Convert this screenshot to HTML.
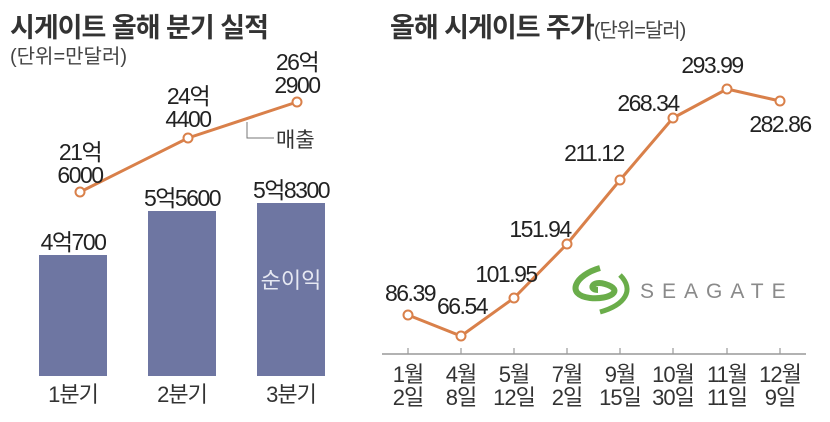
<!DOCTYPE html>
<html><head><meta charset="utf-8"><style>
body{margin:0;background:#fff;}
svg{display:block;}
text{font-family:"Liberation Sans Narrow","Liberation Sans","Noto Sans CJK KR",sans-serif;fill:#222;}
.t{font-family:"Liberation Sans","Noto Sans CJK KR",sans-serif;font-weight:bold;font-size:27px;fill:#333;}
.s{font-family:"Liberation Sans","Noto Sans CJK KR",sans-serif;font-size:20px;fill:#444;}
.n{font-size:23px;text-anchor:middle;letter-spacing:-1.5px;}
.a{font-size:22px;text-anchor:middle;fill:#333;letter-spacing:-1px;}
</style></head><body>
<svg width="830" height="422" viewBox="0 0 830 422">
<text class="t" x="10" y="37" letter-spacing="-1">시게이트 올해 분기 실적</text>
<text class="s" x="10" y="63">(단위=만달러)</text>
<text class="t" x="390" y="37" letter-spacing="-1">올해 시게이트 주가<tspan class="s" style="font-weight:normal" font-size="20">(단위=달러)</tspan></text>
<rect x="39" y="255" width="68" height="121" fill="#6e76a2"/>
<rect x="148" y="211" width="68" height="165" fill="#6e76a2"/>
<rect x="257" y="203" width="68" height="173" fill="#6e76a2"/>
<text class="n" x="73" y="250">4억700</text>
<text class="n" x="182" y="206">5억5600</text>
<text class="n" x="291" y="198">5억8300</text>
<text x="291" y="288" text-anchor="middle" font-size="22" style="fill:#e6e8f2;font-family:'Liberation Sans','Noto Sans CJK KR',sans-serif">순이익</text>
<text class="a" x="73" y="402">1분기</text>
<text class="a" x="182" y="402">2분기</text>
<text class="a" x="291" y="402">3분기</text>
<polyline points="80,192 188,138 297,102" fill="none" stroke="#d9804a" stroke-width="3"/>
<g fill="#fff" stroke="#d9804a" stroke-width="2"><circle cx="80" cy="192" r="4.5"/><circle cx="188" cy="138" r="4.5"/><circle cx="297" cy="102" r="4.5"/></g>
<text class="n" x="80" y="160">21억</text><text class="n" x="80" y="183">6000</text>
<text class="n" x="188" y="104">24억</text><text class="n" x="188" y="127">4400</text>
<text class="n" x="297" y="70">26억</text><text class="n" x="297" y="93">2900</text>
<polyline points="247,122 247,138 274,138" fill="none" stroke="#777" stroke-width="1"/>
<text x="276" y="147" font-size="21" style="fill:#333">매출</text>
<line x1="382" y1="354" x2="806" y2="354" stroke="#999" stroke-width="1.5"/>
<g stroke="#999" stroke-width="1.2">
<line x1="408" y1="348" x2="408" y2="354"/><line x1="461" y1="348" x2="461" y2="354"/><line x1="514" y1="348" x2="514" y2="354"/><line x1="567" y1="348" x2="567" y2="354"/><line x1="620" y1="348" x2="620" y2="354"/><line x1="673" y1="348" x2="673" y2="354"/><line x1="727" y1="348" x2="727" y2="354"/><line x1="780" y1="348" x2="780" y2="354"/></g>
<text class="a" x="408" y="382">1월</text><text class="a" x="408" y="405">2일</text>
<text class="a" x="461" y="382">4월</text><text class="a" x="461" y="405">8일</text>
<text class="a" x="514" y="382">5월</text><text class="a" x="514" y="405">12일</text>
<text class="a" x="567" y="382">7월</text><text class="a" x="567" y="405">2일</text>
<text class="a" x="620" y="382">9월</text><text class="a" x="620" y="405">15일</text>
<text class="a" x="673" y="382">10월</text><text class="a" x="673" y="405">30일</text>
<text class="a" x="727" y="382">11월</text><text class="a" x="727" y="405">11일</text>
<text class="a" x="780" y="382">12월</text><text class="a" x="780" y="405">9일</text>
<path d="M600,268 C575,275 565,295 590,298 C610,300 625,290 605,284 C592,280 588,290 598,290" fill="none" stroke="#6aad4a" stroke-width="6"/>
<path d="M620,275 C635,290 625,305 600,312" fill="none" stroke="#6aad4a" stroke-width="5"/>
<text x="640" y="298" font-size="21" letter-spacing="8" style="fill:#8a8a8a;font-family:'Liberation Sans',sans-serif">SEAGATE</text>
<polyline points="408,315 461,336 514,298 567,244 620,180 673,118 727,89 780,101" fill="none" stroke="#d9804a" stroke-width="3"/>
<g fill="#fff" stroke="#d9804a" stroke-width="2">
<circle cx="408" cy="315" r="4.5"/><circle cx="461" cy="336" r="4.5"/><circle cx="514" cy="298" r="4.5"/><circle cx="567" cy="244" r="4.5"/><circle cx="620" cy="180" r="4.5"/><circle cx="673" cy="118" r="4.5"/><circle cx="727" cy="89" r="4.5"/><circle cx="780" cy="101" r="4.5"/></g>
<text class="n" x="410" y="301">86.39</text>
<text class="n" x="462" y="314">66.54</text>
<text class="n" x="506" y="282">101.95</text>
<text class="n" x="540" y="237">151.94</text>
<text class="n" x="594" y="161">211.12</text>
<text class="n" x="648" y="111">268.34</text>
<text class="n" x="712" y="73">293.99</text>
<text class="n" x="780" y="132">282.86</text>
</svg>
</body></html>
